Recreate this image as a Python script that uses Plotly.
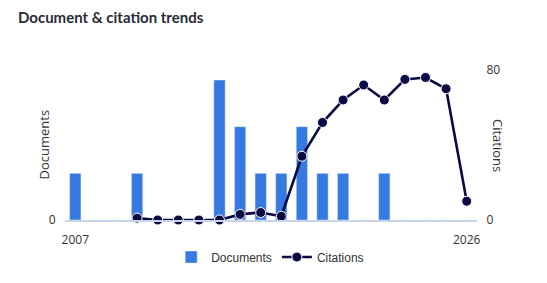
import plotly.graph_objects as go

years = list(range(2007, 2027))
documents = [1, 0, 0, 1, 0, 0, 0, 3, 2, 1, 1, 2, 1, 1, 0, 1, 0, 0, 0, 0]
citations = [None, None, None, 1, 0, 0, 0, 0, 3, 4, 2, 34, 52, 64, 72, 64, 75, 76, 70, 10]
x_ticks = [2007, 2026]

BAR = "#3679e0"
LINE = "#0c0a45"
TXT = "#333333"
FONT = "Open Sans"

fig = go.Figure()
fig.add_trace(go.Bar(x=years, y=documents, name="Documents", marker_color=BAR,
                     width=0.55, yaxis="y"))
fig.add_trace(go.Scatter(x=years, y=citations, name="Citations", mode="lines+markers",
                         line=dict(color=LINE, width=2.6),
                         marker=dict(color=LINE, size=10, line=dict(color="white", width=1)),
                         yaxis="y2", cliponaxis=False))

fig.update_layout(
    width=547, height=283,
    margin=dict(l=65, r=70, t=70, b=63),
    paper_bgcolor="white", plot_bgcolor="white",
    font=dict(family=FONT, size=12, color=TXT),
    title=dict(text="<b>Document &amp; citation trends</b>", x=18/547, xref="container",
               xanchor="left", y=1-18/283, yref="container", yanchor="middle",
               font=dict(family="Lato", size=15, color="#2b2b38")),
    showlegend=True,
    legend=dict(orientation="h", x=0.498, xanchor="center", y=-0.247, yanchor="middle",
                font=dict(family="Liberation Sans", size=12, color=TXT),
                itemwidth=30, tracegroupgap=0),
    xaxis=dict(range=[2006.5, 2026.5], tickvals=x_ticks, showgrid=False, zeroline=False,
               showline=True, linecolor="#c6d5ec", linewidth=1.5,
               ticks="outside", ticklen=8, tickcolor="rgba(0,0,0,0)",
               tickfont=dict(family=FONT, size=12, color=TXT)),
    yaxis=dict(range=[0, 3 * 150 / 140], tickvals=[0], showgrid=False, zeroline=False,
               showline=False, ticks="outside", ticklen=6, tickcolor="rgba(0,0,0,0)",
               tickfont=dict(family=FONT, size=12, color=TXT)),
    yaxis2=dict(range=[0, 80], tickvals=[0, 80], overlaying="y", side="right",
                showgrid=False, zeroline=False, showline=False,
                ticks="outside", ticklen=6, tickcolor="rgba(0,0,0,0)",
                tickfont=dict(family=FONT, size=12, color=TXT)),
    bargap=0.45,
    annotations=[
        dict(text="Documents", xref="paper", yref="paper", x=(43.5-65)/412, y=0.5,
             textangle=-90, showarrow=False, xanchor="center", yanchor="middle",
             font=dict(family=FONT, size=13, color=TXT)),
        dict(text="Citations", xref="paper", yref="paper", x=(498-65)/412, y=0.5,
             textangle=90, showarrow=False, xanchor="center", yanchor="middle",
             font=dict(family=FONT, size=13, color=TXT)),
    ],
)

fig.write_html("out.html")
